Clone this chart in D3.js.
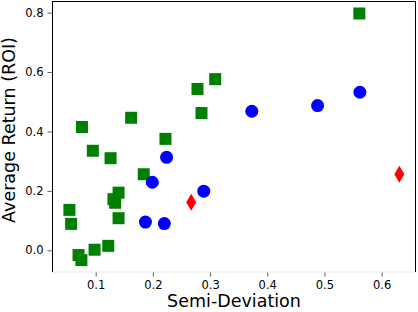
<!DOCTYPE html>
<html lang="en">
<head>
    <meta charset="UTF-8">
    <title>Semi-Deviation vs ROI</title>
    <script src="https://cdnjs.cloudflare.com/ajax/libs/d3/7.8.5/d3.min.js"></script>
    <style>
        body {
            margin: 0;
            background: #fff;
        }

        text {
            font-family: "DejaVu Sans", sans-serif;
            fill: #000;
        }
    </style>
</head>
<body>
<svg id="chart" width="418" height="312"></svg>

<script>
    // green squares
    let greenX = [0.054, 0.057, 0.070, 0.075, 0.076, 0.095, 0.098, 0.122, 0.126, 0.131,
        0.134, 0.140, 0.140, 0.162, 0.184, 0.222, 0.278, 0.285, 0.309, 0.561];
    let greenY = [0.136, 0.089, -0.016, -0.033, 0.415, 0.335, 0.002, 0.015, 0.310, 0.172,
        0.160, 0.194, 0.108, 0.446, 0.256, 0.375, 0.543, 0.462, 0.576, 0.797];

    // blue circles
    let blueX = [0.187, 0.199, 0.220, 0.224, 0.289, 0.373, 0.488, 0.562];
    let blueY = [0.095, 0.229, 0.090, 0.313, 0.199, 0.468, 0.487, 0.532];

    // red diamonds
    let redX = [0.267, 0.631];
    let redY = [0.162, 0.256];

    let xTicks = [0.1, 0.2, 0.3, 0.4, 0.5, 0.6];
    let yTicks = [0.0, 0.2, 0.4, 0.6, 0.8];

    let margin = {top: 1, right: 2, bottom: 40, left: 52};
    let width = 418 - margin.left - margin.right;
    let height = 312 - margin.top - margin.bottom;

    let svg = d3.select("#chart");
    let g = svg.append("g").attr("transform", `translate(${margin.left},${margin.top})`);

    let x = d3.scaleLinear().domain([0.0236, 0.6601]).range([0, width]);
    let y = d3.scaleLinear().domain([-0.073, 0.839]).range([height, 0]);

    // axes
    let xAxis = g.append("g")
        .attr("transform", `translate(0,${height})`)
        .call(d3.axisBottom(x).tickValues(xTicks).tickFormat(d3.format(".1f")).tickSize(4.5).tickPadding(4.5));
    let yAxis = g.append("g")
        .call(d3.axisLeft(y).tickValues(yTicks).tickFormat(d3.format(".1f")).tickSize(4.5).tickPadding(4));

    xAxis.select(".domain").remove();
    yAxis.select(".domain").remove();
    g.selectAll(".tick text").style("font-size", "11.5px").style("font-family", "DejaVu Sans");
    g.selectAll(".tick line").attr("stroke", "#333").attr("stroke-width", 0.8);

    // frame
    g.append("line").attr("x1", 0).attr("x2", width).attr("y1", height).attr("y2", height)
        .attr("stroke", "#e8e8e8").attr("stroke-width", 1);
    g.append("line").attr("x1", 0.5).attr("x2", 0.5).attr("y1", 0).attr("y2", height)
        .attr("stroke", "#000").attr("stroke-width", 1);
    g.append("line").attr("x1", 0).attr("x2", width).attr("y1", 0.5).attr("y2", 0.5)
        .attr("stroke", "#000").attr("stroke-width", 1);
    g.append("line").attr("x1", width - 0.5).attr("x2", width - 0.5).attr("y1", 0).attr("y2", height)
        .attr("stroke", "#000").attr("stroke-width", 1);

    // points
    let greens = greenX.map((v, i) => ({x: v, y: greenY[i]}));
    let blues = blueX.map((v, i) => ({x: v, y: blueY[i]}));
    let reds = redX.map((v, i) => ({x: v, y: redY[i]}));

    g.selectAll(".sq").data(greens).enter().append("rect")
        .attr("class", "sq")
        .attr("x", d => x(d.x) - 6)
        .attr("y", d => y(d.y) - 6)
        .attr("width", 12)
        .attr("height", 12)
        .attr("fill", "green");

    g.selectAll(".dot").data(blues).enter().append("circle")
        .attr("class", "dot")
        .attr("cx", d => x(d.x))
        .attr("cy", d => y(d.y))
        .attr("r", 6.5)
        .attr("fill", "blue");

    let diamond = "M0,-8.5 L5,0 L0,8.5 L-5,0 Z";
    g.selectAll(".dia").data(reds).enter().append("path")
        .attr("class", "dia")
        .attr("transform", d => `translate(${x(d.x)},${y(d.y)})`)
        .attr("d", diamond)
        .attr("fill", "red");

    // labels
    svg.append("text")
        .attr("x", margin.left + width / 2)
        .attr("y", 307)
        .attr("text-anchor", "middle")
        .style("font-size", "17.5px")
        .text("Semi-Deviation");

    svg.append("text")
        .attr("transform", `translate(15,130) rotate(-90)`)
        .attr("text-anchor", "middle")
        .style("font-size", "17.5px")
        .text("Average Return (ROI)");
</script>
</body>
</html>
